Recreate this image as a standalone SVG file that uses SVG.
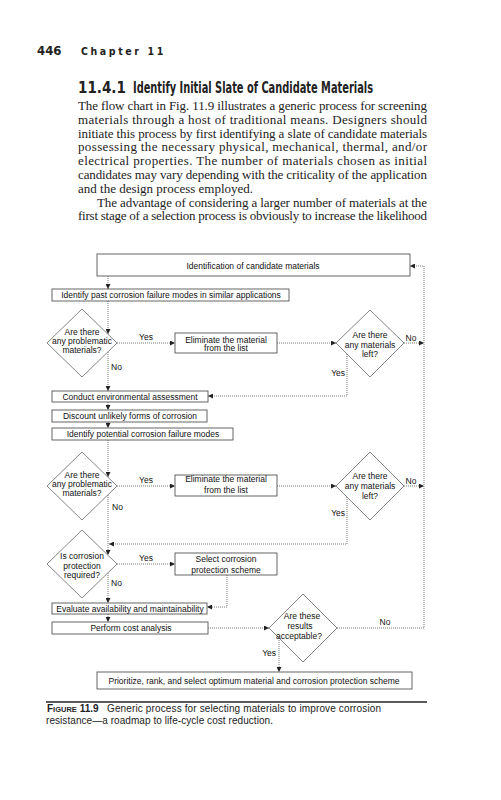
<svg xmlns="http://www.w3.org/2000/svg" width="501" height="800" viewBox="0 0 501 800">
<style>
.hd{font-family:"DejaVu Sans Condensed","DejaVu Sans",sans-serif;font-weight:bold;fill:#222}
.body{font-family:"Liberation Serif",serif;font-size:13px;fill:#222}
.t{font-family:"Liberation Sans",Arial,sans-serif;font-size:8.5px;fill:#111}
.tm{text-anchor:middle}
.te{text-anchor:end}
.box{fill:#fff;stroke:#555;stroke-width:0.9}
.dia{fill:#fff;stroke:#666;stroke-width:0.8}
.con{fill:none;stroke:#555;stroke-width:0.8;stroke-dasharray:1 1}
.cap{font-family:"Liberation Sans",Arial,sans-serif;font-size:10px;fill:#222}
</style>
<defs>
<marker id="ah" viewBox="0 0 6 6" refX="6" refY="3" markerWidth="5" markerHeight="5" markerUnits="userSpaceOnUse" orient="auto">
<path d="M0,0 L6,3 L0,6 Z" fill="#222"/>
</marker>
</defs>
<rect width="501" height="800" fill="#fff"/>

<g id="header">
<text class="hd" x="37" y="55" font-size="13">446</text>
<text class="hd" x="81" y="55" font-size="10.5" letter-spacing="2.6">Chapter 11</text>
<text class="hd" x="78" y="93" font-size="15">11.4.1</text>
<text class="hd" x="133" y="93" font-size="15" textLength="240" lengthAdjust="spacingAndGlyphs">Identify Initial Slate of Candidate Materials</text>
</g>

<g id="bodytext" class="body">
<text x="78" y="110" textLength="349" lengthAdjust="spacing">The flow chart in Fig. 11.9 illustrates a generic process for screening</text>
<text x="78" y="123.8" textLength="349" lengthAdjust="spacing">materials through a host of traditional means. Designers should</text>
<text x="78" y="137.6" textLength="349" lengthAdjust="spacing">initiate this process by first identifying a slate of candidate materials</text>
<text x="78" y="151.4" textLength="349" lengthAdjust="spacing">possessing the necessary physical, mechanical, thermal, and/or</text>
<text x="78" y="165.2" textLength="349" lengthAdjust="spacing">electrical properties. The number of materials chosen as initial</text>
<text x="78" y="179" textLength="349" lengthAdjust="spacing">candidates may vary depending with the criticality of the application</text>
<text x="78" y="192.8">and the design process employed.</text>
<text x="97" y="206.6" textLength="330" lengthAdjust="spacing">The advantage of considering a larger number of materials at the</text>
<text x="78" y="220.4" textLength="349" lengthAdjust="spacing">first stage of a selection process is obviously to increase the likelihood</text>
</g>

<g id="connectors">
<path class="con" d="M108,276 V289" marker-end="url(#ah)"/>
<path class="con" d="M108,301 V334" marker-end="url(#ah)"/>
<path class="con" d="M117,343 H175" marker-end="url(#ah)"/>
<path class="con" d="M277,343 H336" marker-end="url(#ah)"/>
<path class="con" d="M404,343 H424" marker-end="url(#ah)"/>
<path class="con" d="M108,352 V391" marker-end="url(#ah)"/>
<path class="con" d="M347,354 V396 H208" marker-end="url(#ah)"/>
<path class="con" d="M108,402 V410" marker-end="url(#ah)"/>
<path class="con" d="M108,422 V428" marker-end="url(#ah)"/>
<path class="con" d="M108,440 V477" marker-end="url(#ah)"/>
<path class="con" d="M117,486 H175" marker-end="url(#ah)"/>
<path class="con" d="M277,486 H336" marker-end="url(#ah)"/>
<path class="con" d="M404,486 H424" marker-end="url(#ah)"/>
<path class="con" d="M347,497 V544 H109" marker-end="url(#ah)"/>
<path class="con" d="M108,495 V555" marker-end="url(#ah)"/>
<path class="con" d="M117,564 H175" marker-end="url(#ah)"/>
<path class="con" d="M227,575 V607 H207" marker-end="url(#ah)"/>
<path class="con" d="M108,573 V603" marker-end="url(#ah)"/>
<path class="con" d="M108,614 V622" marker-end="url(#ah)"/>
<path class="con" d="M208,628 H269" marker-end="url(#ah)"/>
<path class="con" d="M337,628 H424 V266 H410" marker-end="url(#ah)"/>
<path class="con" d="M279,638 V672" marker-end="url(#ah)"/>
</g>

<g id="n-identification">
<rect class="box" x="97" y="254" width="313" height="22"/>
<text class="t tm" x="253" y="269">Identification of candidate materials</text>
</g>
<g id="n-past">
<rect class="box" x="52" y="289" width="237" height="12"/>
<text class="t tm" x="171" y="298">Identify past corrosion failure modes in similar applications</text>
</g>
<g id="n-d1">
<polygon class="dia" points="82,309 117,343 82,377 47,343"/>
<text class="t tm" x="82" y="335">Are there</text>
<text class="t tm" x="82" y="344">any problematic</text>
<text class="t tm" x="82" y="353">materials?</text>
</g>
<g id="n-elim1">
<rect class="box" x="175" y="333" width="102" height="20"/>
<text class="t tm" x="226" y="342.5">Eliminate the material</text>
<text class="t tm" x="226" y="351">from the list</text>
</g>
<g id="n-d2">
<polygon class="dia" points="370,310 404,343 370,377 336,343"/>
<text class="t tm" x="370" y="338">Are there</text>
<text class="t tm" x="370" y="347.5">any materials</text>
<text class="t tm" x="370" y="357">left?</text>
</g>
<g id="n-conduct">
<rect class="box" x="52" y="391" width="156" height="11"/>
<text class="t tm" x="130" y="399.5">Conduct environmental assessment</text>
</g>
<g id="n-discount">
<rect class="box" x="52" y="410" width="155" height="12"/>
<text class="t tm" x="130" y="419">Discount unlikely forms of corrosion</text>
</g>
<g id="n-potential">
<rect class="box" x="52" y="428" width="181" height="12"/>
<text class="t tm" x="143" y="437">Identify potential corrosion failure modes</text>
</g>
<g id="n-d3">
<polygon class="dia" points="82,452 117,486 82,520 47,486"/>
<text class="t tm" x="82" y="477.5">Are there</text>
<text class="t tm" x="82" y="486.5">any problematic</text>
<text class="t tm" x="82" y="495.5">materials?</text>
</g>
<g id="n-elim2">
<rect class="box" x="175" y="475" width="102" height="21"/>
<text class="t tm" x="226" y="481.5">Eliminate the material</text>
<text class="t tm" x="226" y="493">from the list</text>
</g>
<g id="n-d4">
<polygon class="dia" points="370,452 404,486 370,520 336,486"/>
<text class="t tm" x="370" y="478.5">Are there</text>
<text class="t tm" x="370" y="489">any materials</text>
<text class="t tm" x="370" y="498.5">left?</text>
</g>
<g id="n-d5">
<polygon class="dia" points="82,530 117,564 82,598 47,564"/>
<text class="t tm" x="82" y="559">Is corrosion</text>
<text class="t tm" x="82" y="568.5">protection</text>
<text class="t tm" x="82" y="578">required?</text>
</g>
<g id="n-select">
<rect class="box" x="175" y="553" width="102" height="22"/>
<text class="t tm" x="226" y="562">Select corrosion</text>
<text class="t tm" x="226" y="573">protection scheme</text>
</g>
<g id="n-evaluate">
<rect class="box" x="52" y="603" width="155" height="11"/>
<text class="t tm" x="130" y="611.5">Evaluate availability and maintainability</text>
</g>
<g id="n-cost">
<rect class="box" x="52" y="622" width="156" height="12"/>
<text class="t tm" x="131" y="631">Perform cost analysis</text>
</g>
<g id="n-d6">
<polygon class="dia" points="303,594 337,628 303,662 269,628"/>
<text class="t tm" x="302" y="619">Are these</text>
<text class="t tm" x="300" y="629">results</text>
<text class="t tm" x="299" y="639">acceptable?</text>
</g>
<g id="n-prioritize">
<rect class="box" x="97" y="672" width="315" height="17"/>
<text class="t tm" x="254" y="683.5">Prioritize, rank, and select optimum material and corrosion protection scheme</text>
</g>

<g id="labels" class="t">
<text class="tm" x="146" y="340">Yes</text>
<text x="111" y="370">No</text>
<text class="tm" x="411" y="341">No</text>
<text class="te" x="345" y="376">Yes</text>
<text class="tm" x="146" y="483">Yes</text>
<text x="112" y="510">No</text>
<text class="tm" x="411" y="484">No</text>
<text class="te" x="345" y="516">Yes</text>
<text class="tm" x="146" y="561">Yes</text>
<text x="111" y="586">No</text>
<text class="tm" x="385" y="625">No</text>
<text class="te" x="276" y="656">Yes</text>
</g>

<g id="caption">
<line x1="46" y1="702" x2="427" y2="702" stroke="#222" stroke-width="1.4"/>
<text class="cap" x="47" y="712" font-weight="bold">F<tspan font-size="7.5">IGURE</tspan> 11.9</text>
<text class="cap" x="107" y="712" textLength="274" lengthAdjust="spacing">Generic process for selecting materials to improve corrosion</text>
<text class="cap" x="46" y="724" textLength="227" lengthAdjust="spacing">resistance—a roadmap to life-cycle cost reduction.</text>
</g>
</svg>
